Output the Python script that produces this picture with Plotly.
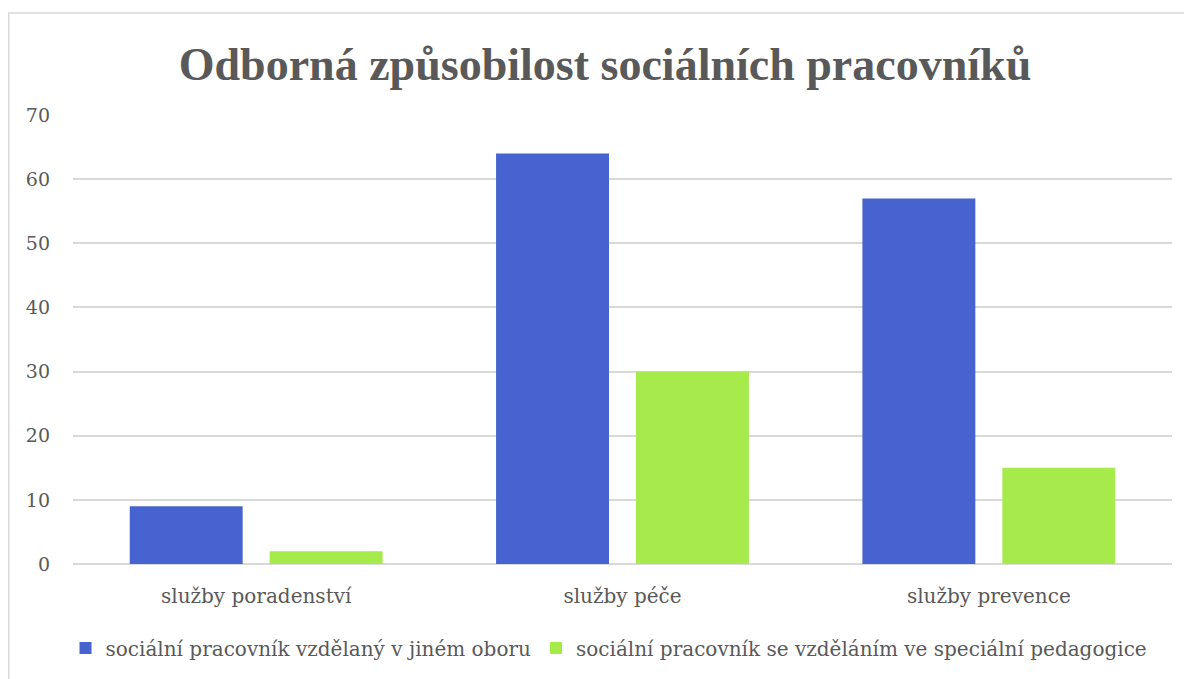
import plotly.graph_objects as go

categories = ["služby poradenství", "služby péče", "služby prevence"]
series_names = ["sociální pracovník vzdělaný v jiném oboru",
                "sociální pracovník se vzděláním ve speciální pedagogice"]
values_jiny_obor = [9, 64, 57]
values_spec_ped = [2, 30, 15]
title_text = "Odborná způsobilost sociálních pracovníků"

OFF = 8  # page body margin
W, H = 1184, 671
L, R, T, B = 65, 20, 107, 115
pw = W - L - R
ph = H - T - B

def px_x(px):
    return (px - OFF - L) / pw

def px_y(py):
    return (H - B - (py - OFF)) / ph

SERIF = "DejaVu Serif"
TITLE_FONT = "Liberation Serif"
GREY = "#595959"

fig = go.Figure()
fig.add_trace(go.Bar(x=categories, y=values_jiny_obor, name=series_names[0],
                     marker=dict(color="#4763cf", line=dict(width=0))))
fig.add_trace(go.Bar(x=categories, y=values_spec_ped, name=series_names[1],
                     marker=dict(color="#a6ea4c", line=dict(width=0))))

fig.update_layout(
    width=W, height=H,
    margin=dict(l=L, r=R, t=T, b=B, autoexpand=False),
    paper_bgcolor="white", plot_bgcolor="white",
    barmode="group", bargap=0.236, bargroupgap=0.193,
    font=dict(family=SERIF, color=GREY, size=20),
    title=dict(text="<b>" + title_text + "</b>", x=(605 - OFF) / W,
               xanchor="center", y=1 - (64 - OFF) / H, yanchor="middle",
               font=dict(family=TITLE_FONT, size=46, color=GREY)),
    xaxis=dict(showgrid=False, showline=False, ticks="", ticklabelstandoff=18,
               tickfont=dict(family=SERIF, size=20, color=GREY)),
    yaxis=dict(range=[0, 70], dtick=10, showgrid=True, gridcolor="#d9d9d9",
               gridwidth=1.5, zeroline=True, zerolinecolor="#d9d9d9", zerolinewidth=1.5,
               showline=False, ticks="", ticklabelstandoff=22,
               tickfont=dict(family=SERIF, size=19, color=GREY)),
    legend=dict(orientation="h", x=px_x(609), xanchor="center", y=px_y(648),
                yanchor="middle", font=dict(family=SERIF, size=20, color=GREY),
                itemwidth=30, tracegroupgap=0, bgcolor="rgba(0,0,0,0)"),
    showlegend=True,
)

fig.add_shape(type="rect", xref="paper", yref="paper",
              x0=px_x(OFF + 0.8), x1=px_x(1210), y0=px_y(700), y1=px_y(13),
              line=dict(color="#d9d9d9", width=1.5), fillcolor="rgba(0,0,0,0)",
              layer="below")

fig.write_html("out.html")
